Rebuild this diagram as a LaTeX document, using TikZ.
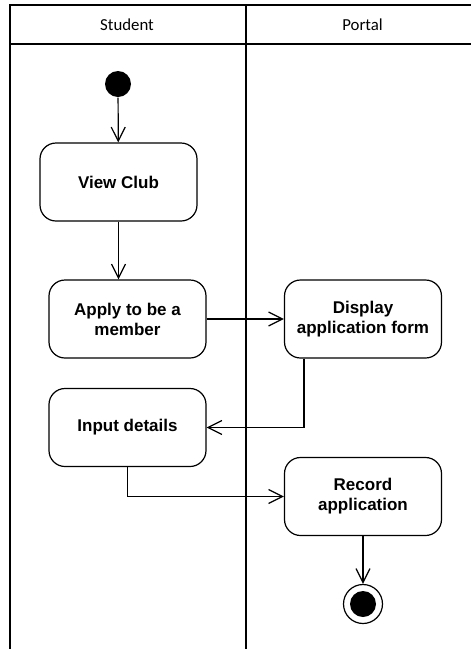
\documentclass[tikz,border=0pt]{standalone}
\usepackage{fontspec}
\setmainfont{Liberation Sans}
\newfontfamily\lanefont{Carlito}
\usetikzlibrary{arrows.meta}
\tikzset{
  activity/.style={draw,rounded corners=16pt,minimum width=157pt,minimum height=78pt,
    align=center,font=\fontsize{17}{20}\selectfont\bfseries},
  lane/.style={font=\lanefont\fontsize{16.8}{20}\selectfont},
  flow/.style={-{Straight Barb[length=14pt,width=14pt]}},
}
\begin{document}
\begin{tikzpicture}[x=1pt,y=-1pt,line width=1.2pt]
  \useasboundingbox (0,0) rectangle (471,649);
  \clip (0,0) rectangle (471,649);
  \draw (10,5) rectangle (485,660);
  \draw (10,44) -- (485,44) (246,5) -- (246,660);% couloirs
  \node [lane] (student) at (127,24.5) {Student};
  \node [lane] (portal) at (362.5,24.5) {Portal};
  \node [circle,fill,inner sep=0,minimum size=26pt] (start) at (118,84) {};
  \node [activity] (view) at (118.5,182) {View Club};
  \node [activity] (apply) at (127.5,319) {Apply to be a\\member};
  \node [activity] (display) at (363,319) {Display\\application form};
  \node [activity] (input) at (127.5,427.5) {Input details};
  \node [activity] (record) at (363,496.5) {Record\\application};
  \node [circle,draw,inner sep=0,minimum size=39pt] (stop) at (363,604) {};
  \node [circle,fill,inner sep=0,minimum size=26pt] at (stop) {};
  \draw [flow] (start) -- (view);
  \draw [flow] (view) -- (view.south |- apply.north);
  \draw [flow] (apply) -- (display);
  \draw [flow] ([xshift=-59pt]display.south) |- (input);
  \draw [flow] (input) |- (record);
  \draw [flow] (record) -- (stop);
\end{tikzpicture}
\end{document}
